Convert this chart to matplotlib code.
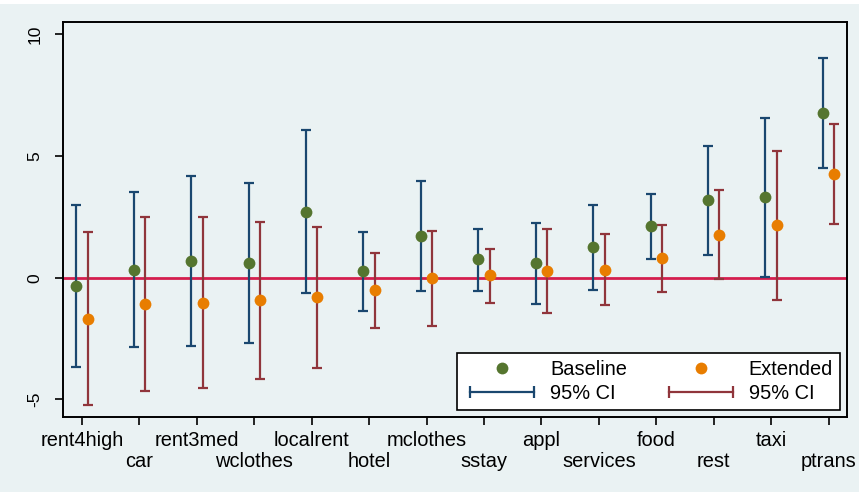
import matplotlib
matplotlib.use("Agg")
import matplotlib.pyplot as plt
import numpy as np
from matplotlib.lines import Line2D
from matplotlib.legend_handler import HandlerLine2D
from matplotlib.patches import Rectangle

categories = ["rent4high", "car", "rent3med", "wclothes", "localrent", "hotel", "mclothes",
              "sstay", "appl", "services", "food", "rest", "taxi", "ptrans"]
base = [-0.34, 0.32, 0.69, 0.62, 2.71, 0.26, 1.73, 0.75, 0.59, 1.25, 2.11, 3.18, 3.31, 6.76]
base_lo = [-3.67, -2.86, -2.80, -2.67, -0.62, -1.35, -0.53, -0.53, -1.07, -0.49, 0.78, 0.95, 0.03, 4.49]
base_hi = [3.00, 3.52, 4.18, 3.89, 6.07, 1.88, 3.98, 2.01, 2.25, 2.99, 3.42, 5.41, 6.56, 9.01]
ext = [-1.68, -1.07, -1.03, -0.93, -0.81, -0.52, -0.03, 0.10, 0.29, 0.33, 0.81, 1.77, 2.15, 4.25]
ext_lo = [-5.21, -4.65, -4.53, -4.15, -3.70, -2.05, -1.98, -1.04, -1.44, -1.14, -0.57, -0.05, -0.90, 2.19]
ext_hi = [1.86, 2.51, 2.48, 2.29, 2.08, 1.00, 1.93, 1.19, 1.99, 1.81, 2.18, 3.60, 5.22, 6.31]
yticks = [-5, 0, 5, 10]

plt.rcParams['font.family'] = ['Liberation Sans', 'DejaVu Sans']

BG = "#EAF2F3"
GREEN = "#55752F"
ORANGE = "#E87D00"
NAVY = "#1A476F"
MAROON = "#90353B"
ZERO = "#D41E4D"

fig = plt.figure(figsize=(8.59, 4.92), dpi=100, facecolor=BG)
ax = fig.add_axes([63/859, 1-417/492, (847-63)/859, (417-22)/492])
ax.set_facecolor(BG)

x = np.arange(1, len(categories) + 1)
off = 0.1
b = np.array(base); e = np.array(ext)

ax.axhline(0, color=ZERO, lw=2, zorder=1)

ax.errorbar(x - off, b, yerr=[b - np.array(base_lo), np.array(base_hi) - b], fmt='none',
            ecolor=NAVY, elinewidth=1.6, capsize=3.9, capthick=1.6, zorder=2)
ax.errorbar(x + off, e, yerr=[e - np.array(ext_lo), np.array(ext_hi) - e], fmt='none',
            ecolor=MAROON, elinewidth=1.6, capsize=3.9, capthick=1.6, zorder=2)
ax.plot(x - off, b, 'o', color=GREEN, ms=8.5, mec='none', zorder=4)
ax.plot(x + off, e, 'o', color=ORANGE, ms=8.5, mec='none', zorder=4)

ax.set_xlim(0.67, 14.32)
ax.set_ylim(-5.72, 10.5)
ax.set_yticks(yticks)
ax.set_yticklabels([str(v) for v in yticks], rotation=90, va='center', fontsize=12.5)
ax.set_xticks(x)
ax.set_xticklabels(categories, fontsize=14.4)
ax.tick_params(axis='y', length=6, width=1.2, pad=9, color='black')
ax.tick_params(axis='x', length=6, width=1.2, pad=4, color='black')
for i, t in enumerate(ax.xaxis.get_major_ticks()):
    if i % 2 == 1:
        t.set_pad(4 + 15)
for s in ax.spines.values():
    s.set_color('black')
    s.set_linewidth(1.4)

h_base = Line2D([], [], ls='none', marker='o', color=GREEN, ms=8.5, mec='none')
h_ext = Line2D([], [], ls='none', marker='o', color=ORANGE, ms=8.5, mec='none')
h_ci1 = Line2D([], [], color=NAVY, lw=1.6, marker='|', ms=8, mew=1.6)
h_ci2 = Line2D([], [], color=MAROON, lw=1.6, marker='|', ms=8, mew=1.6)
leg = ax.legend([h_base, h_ci1, h_ext, h_ci2], ["Baseline", "95% CI", "Extended", "95% CI"],
                ncol=2, loc='lower left', bbox_to_anchor=(0.5026, 0.0177, 0.4884, 0.163),
                mode='expand', fontsize=14.4, frameon=True, fancybox=False,
                edgecolor='black', framealpha=1, facecolor='white',
                handlelength=3.8, handletextpad=0.5, columnspacing=1.3,
                labelspacing=0.25, borderpad=0.35, borderaxespad=0,
                handler_map={h_ci1: HandlerLine2D(numpoints=2), h_ci2: HandlerLine2D(numpoints=2)})
leg.get_frame().set_linewidth(1.2)

fig.patches.append(Rectangle((0, 1 - 4/492), 1, 4/492, transform=fig.transFigure,
                             facecolor='white', edgecolor='none'))

fig.savefig("out.png", dpi=100, facecolor=BG)
